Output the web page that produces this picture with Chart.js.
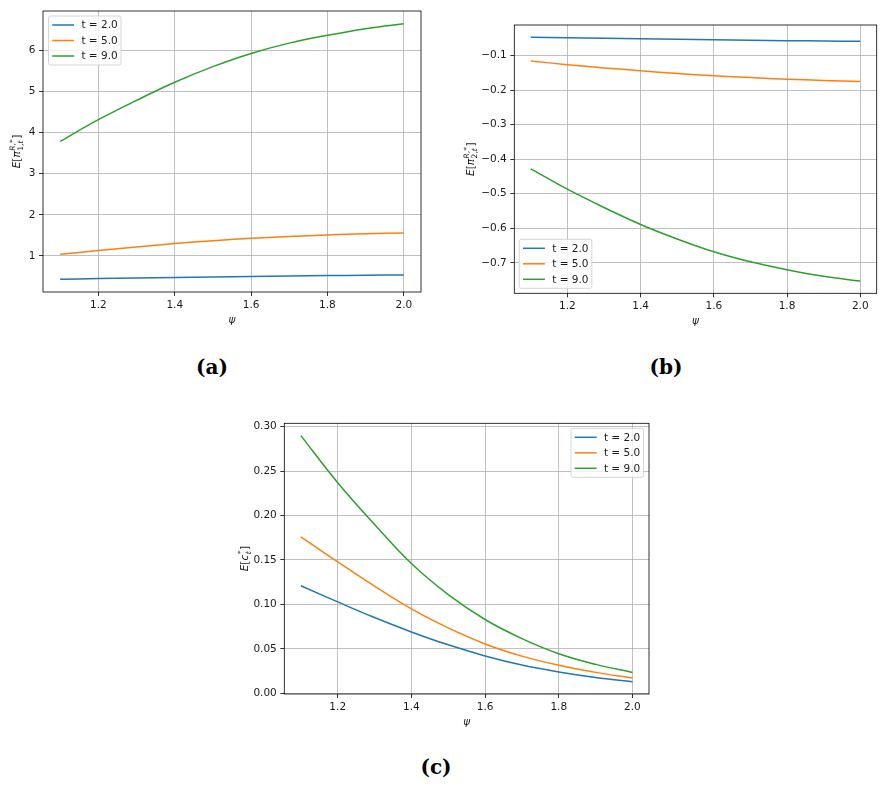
<!DOCTYPE html>
<html>
<head>
<meta charset="utf-8">
<script src="https://cdn.jsdelivr.net/npm/chart.js@4.4.0/dist/chart.umd.min.js"></script>
<style>
  body { margin: 0; background: #fff; width: 886px; height: 787px; position: relative; overflow: hidden; }
  .panel { position: absolute; }
  .tag { position: absolute; font: bold 20px "DejaVu Serif", serif; color: #000; transform: translate(-50%, -50%); }
</style>
</head>
<body>
<div class="panel" style="left:0;top:0"><canvas id="chartA" width="440" height="335"></canvas></div>
<div class="panel" style="left:446px;top:0"><canvas id="chartB" width="440" height="335"></canvas></div>
<div class="panel" style="left:220px;top:410px"><canvas id="chartC" width="440" height="330"></canvas></div>
<div class="tag" style="left:212px;top:367px">(a)</div>
<div class="tag" style="left:666px;top:367px">(b)</div>
<div class="tag" style="left:436px;top:767px">(c)</div>

<script>
// x values (psi) and series names
const psi = [1.1, 1.2, 1.3, 1.4, 1.5, 1.6, 1.7, 1.8, 1.9, 2.0];
const seriesNames = ["t = 2.0", "t = 5.0", "t = 9.0"];
const seriesColors = ["#1f77b4", "#ff7f0e", "#2ca02c"];
const xTicks = [1.2, 1.4, 1.6, 1.8, 2.0];

// (a) E[pi_1]
const piOne_t2 = [0.435, 0.45, 0.465, 0.478, 0.49, 0.502, 0.513, 0.523, 0.532, 0.54];
const piOne_t5 = [1.04, 1.13, 1.22, 1.30, 1.37, 1.43, 1.475, 1.51, 1.54, 1.56];
const piOne_t9 = [3.785, 4.31, 4.78, 5.22, 5.60, 5.92, 6.17, 6.36, 6.52, 6.64];
const yTicksA = [1, 2, 3, 4, 5, 6];

// (b) E[pi_2]
const piTwo_t2 = [-0.047, -0.0485, -0.050, -0.0515, -0.053, -0.0545, -0.056, -0.057, -0.058, -0.059];
const piTwo_t5 = [-0.116, -0.1265, -0.136, -0.144, -0.152, -0.1585, -0.164, -0.1685, -0.172, -0.175];
const piTwo_t9 = [-0.428, -0.487, -0.540, -0.589, -0.631, -0.668, -0.697, -0.720, -0.739, -0.753];
const yTicksB = [-0.7, -0.6, -0.5, -0.4, -0.3, -0.2, -0.1];

// (c) E[c]
const c_t2 = [0.121, 0.1028, 0.0852, 0.069, 0.0545, 0.042, 0.0318, 0.024, 0.0178, 0.013];
const c_t5 = [0.176, 0.1478, 0.1205, 0.095, 0.0735, 0.0555, 0.0418, 0.0315, 0.0235, 0.0172];
const c_t9 = [0.29, 0.237, 0.19, 0.146, 0.111, 0.083, 0.0615, 0.0445, 0.0325, 0.0234];
const yTicksC = [0, 0.05, 0.10, 0.15, 0.20, 0.25, 0.30];

const FONT = '"DejaVu Sans", sans-serif';
const FS = 10.5;

// matplotlib-style 5% autoscale margins
function padRange(arrs) {
  const all = [].concat(...arrs);
  const lo = Math.min(...all), hi = Math.max(...all);
  const m = (hi - lo) * 0.05;
  return [lo - m, hi + m];
}

// draws E[...] style label with super/subscripts, centred at 0 in current frame
function drawMath(ctx, parts, size) {
  const sSize = size * 0.72;
  const w = (p, s) => { ctx.font = (p.i ? "italic " : "") + s + "px " + FONT; return ctx.measureText(p.t).width; };
  const runW = (run, s) => run.reduce((acc, p) => acc + w(p, s), 0);
  const drawRun = (run, s, x, y) => {
    run.forEach(p => {
      const pw = w(p, s);
      ctx.fillText(p.t, x, y);
      x += pw;
    });
  };
  let total = 0;
  parts.forEach(p => {
    total += w(p, size);
    if (p.sup || p.sub) total += Math.max(p.sup ? runW(p.sup, sSize) : 0, p.sub ? runW(p.sub, sSize) : 0) + 1;
  });
  let x = -total / 2;
  const base = size * 0.365;
  parts.forEach(p => {
    const pw = w(p, size);
    ctx.fillText(p.t, x, base);
    x += pw;
    if (p.sup || p.sub) {
      x += 0.5;
      if (p.sup) drawRun(p.sup, sSize, x, base - size * 0.48);
      if (p.sub) drawRun(p.sub, sSize, x, base + size * 0.3);
      x += Math.max(p.sup ? runW(p.sup, sSize) : 0, p.sub ? runW(p.sub, sSize) : 0) + 0.5;
    }
  });
}

const decor = {
  id: "decor",
  afterDatasetsDraw(chart, args, opts) {
    const { ctx, chartArea: a } = chart;
    ctx.save();
    // spines
    ctx.strokeStyle = "#000";
    ctx.lineWidth = 0.8;
    ctx.strokeRect(a.left, a.top, a.right - a.left, a.bottom - a.top);

    // legend box
    const bw = 72.5, bh = 49;
    let bx, by;
    if (opts.corner === "ul") { bx = a.left + 5.5; by = a.top + 5; }
    if (opts.corner === "ll") { bx = a.left + 5; by = a.bottom - 5 - bh; }
    if (opts.corner === "ur") { bx = a.right - 5.5 - bw; by = a.top + 5; }
    ctx.beginPath();
    ctx.roundRect(bx, by, bw, bh, 2);
    ctx.fillStyle = "rgba(255,255,255,0.8)";
    ctx.fill();
    ctx.strokeStyle = "#cccccc";
    ctx.stroke();
    const rows = [9, 24.5, 40];
    ctx.font = FS + "px " + FONT;
    ctx.textBaseline = "middle";
    ctx.textAlign = "left";
    chart.data.datasets.forEach((ds, i) => {
      const y = by + rows[i];
      ctx.beginPath();
      ctx.moveTo(bx + 3.7, y);
      ctx.lineTo(bx + 25.6, y);
      ctx.strokeStyle = ds.borderColor;
      ctx.lineWidth = 1.5;
      ctx.stroke();
      ctx.fillStyle = "#1a1a1a";
      ctx.fillText(ds.label, bx + 32.9, y + 0.5);
    });

    // x title
    ctx.font = "italic " + FS + "px " + FONT;
    ctx.textAlign = "center";
    ctx.fillStyle = "#1a1a1a";
    ctx.fillText("ψ", (a.left + a.right) / 2, a.bottom + 28);

    // y title
    ctx.translate(a.left - opts.yGap, (a.top + a.bottom) / 2);
    ctx.rotate(-Math.PI / 2);
    ctx.textAlign = "left";
    ctx.textBaseline = "alphabetic";
    drawMath(ctx, opts.yTitle, FS);
    ctx.restore();
  }
};

function makeChart(id, series, yTicks, fmt, box, legendOpts) {
  const [xmin, xmax] = padRange([psi]);
  const [ymin, ymax] = padRange(series);
  const gridOpts = { color: "#b0b0b0", lineWidth: 0.8, tickColor: "#000", tickLength: 4, tickWidth: 0.8 };
  const tickFont = { family: FONT, size: FS };
  return new Chart(document.getElementById(id), {
    type: "line",
    data: {
      datasets: series.map((vals, i) => ({
        label: seriesNames[i],
        data: psi.map((x, j) => ({ x: x, y: vals[j] })),
        borderColor: seriesColors[i],
        borderWidth: 1.5,
        pointRadius: 0,
        fill: false,
        tension: 0.4
      }))
    },
    options: {
      responsive: false,
      animation: false,
      events: [],
      layout: { padding: { left: 0, top: box.top, right: box.right, bottom: 0 } },
      plugins: { legend: { display: false }, tooltip: { enabled: false }, decor: legendOpts },
      scales: {
        x: {
          type: "linear", min: xmin, max: xmax,
          afterBuildTicks: s => { s.ticks = xTicks.map(v => ({ value: v })); },
          afterFit: s => { s.height = box.xh; },
          grid: gridOpts, border: { display: false },
          ticks: { font: tickFont, color: "#1a1a1a", padding: 3, maxRotation: 0, autoSkip: false, callback: v => v.toFixed(1) }
        },
        y: {
          type: "linear", min: ymin, max: ymax,
          afterBuildTicks: s => { s.ticks = yTicks.map(v => ({ value: v })); },
          afterFit: s => { s.width = box.yw; },
          grid: gridOpts, border: { display: false },
          ticks: { font: tickFont, color: "#1a1a1a", padding: 3.5, autoSkip: false, callback: fmt }
        }
      }
    },
    plugins: [decor]
  });
}

const minus = v => (v < -1e-9 ? "\u2212" : "") + Math.abs(v).toFixed(1);

makeChart("chartA", [piOne_t2, piOne_t5, piOne_t9], yTicksA, v => String(Math.round(v)),
  { top: 11, right: 19, yw: 43, xh: 43 },
  { corner: "ul", yGap: 27,
    yTitle: [{ t: "E", i: true }, { t: "[" }, { t: "π", i: true, sup: [{ t: "R", i: true }, { t: "," }, { t: "*" }], sub: [{ t: "1" }, { t: "," }, { t: "t", i: true }] }, { t: "]" }] });

makeChart("chartB", [piTwo_t2, piTwo_t5, piTwo_t9], yTicksB, minus,
  { top: 25, right: 9.3, yw: 68.3, xh: 41.7 },
  { corner: "ll", yGap: 44,
    yTitle: [{ t: "E", i: true }, { t: "[" }, { t: "π", i: true, sup: [{ t: "R", i: true }, { t: "," }, { t: "*" }], sub: [{ t: "2" }, { t: "," }, { t: "t", i: true }] }, { t: "]" }] });

makeChart("chartC", [c_t2, c_t5, c_t9], yTicksC, v => v.toFixed(2),
  { top: 13.3, right: 11, yw: 64.3, xh: 46 },
  { corner: "ur", yGap: 40.5,
    yTitle: [{ t: "E", i: true }, { t: "[" }, { t: "c", i: true, sup: [{ t: "*" }], sub: [{ t: "t", i: true }] }, { t: "]" }] });
</script>
</body>
</html>
